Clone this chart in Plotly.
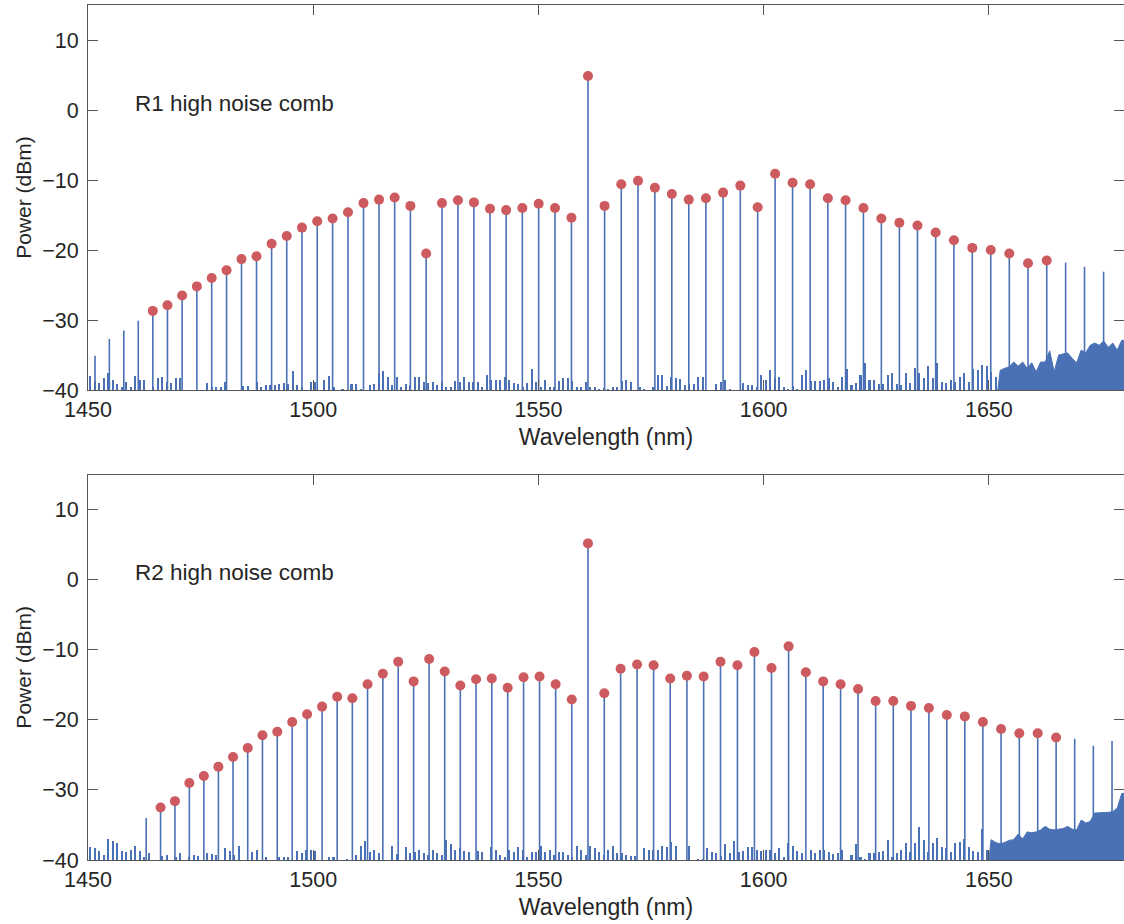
import numpy as np
import plotly.graph_objects as go
from plotly.subplots import make_subplots

# ---------------- data ----------------
# R1 comb lines (nm) and peak power (dBm)
r1_wl = [1451.56, 1454.74, 1457.95, 1461.16, 1464.39, 1467.64, 1470.90, 1474.17, 1477.46, 1480.76,
         1484.08, 1487.41, 1490.76, 1494.12, 1497.50, 1500.89, 1504.30, 1507.72, 1511.16, 1514.61,
         1518.08, 1521.57, 1525.07, 1528.59, 1532.13, 1535.68, 1539.25, 1542.83, 1546.43, 1550.05,
         1553.68, 1557.33, 1561.00, 1564.69, 1568.39, 1572.11, 1575.85, 1579.61, 1583.38, 1587.18,
         1590.99, 1594.82, 1598.67, 1602.54, 1606.42, 1610.32, 1614.25, 1618.19, 1622.15, 1626.13,
         1630.13, 1634.15, 1638.19, 1642.24, 1646.32, 1650.42, 1654.54, 1658.69, 1662.85, 1667.04,
         1671.24, 1675.47]
r1_dbm = [-35.1, -32.7, -31.5, -30.1, -28.7, -27.9, -26.5, -25.2, -24.0, -22.9,
          -21.3, -20.9, -19.1, -18.0, -16.8, -15.9, -15.5, -14.6, -13.3, -12.8,
          -12.5, -13.7, -20.5, -13.3, -12.9, -13.2, -14.1, -14.3, -14.0, -13.4,
          -14.0, -15.4, 4.85, -13.7, -10.6, -10.1, -11.1, -12.0, -12.8, -12.6,
          -11.8, -10.8, -13.9, -9.1, -10.4, -10.6, -12.6, -12.9, -14.0, -15.5,
          -16.1, -16.5, -17.5, -18.6, -19.7, -20.0, -20.5, -21.9, -21.5, -21.8,
          -22.4, -23.1]
r1_marked = (4, 58)  # first and last index of lines carrying a red dot

# R2 comb lines (nm) and peak power (dBm)
r2_wl = [1462.92, 1466.11, 1469.30, 1472.50, 1475.72, 1478.95, 1482.20, 1485.46, 1488.73, 1492.02,
         1495.33, 1498.64, 1501.97, 1505.32, 1508.69, 1512.06, 1515.46, 1518.87, 1522.29, 1525.73,
         1529.19, 1532.66, 1536.15, 1539.65, 1543.17, 1546.70, 1550.25, 1553.82, 1557.40, 1561.00,
         1564.62, 1568.25, 1571.90, 1575.57, 1579.26, 1582.96, 1586.68, 1590.42, 1594.18, 1597.95,
         1601.74, 1605.54, 1609.37, 1613.22, 1617.08, 1620.96, 1624.86, 1628.78, 1632.72, 1636.68,
         1640.66, 1644.66, 1648.67, 1652.71, 1656.76, 1660.84, 1664.93, 1669.05, 1673.19, 1677.34]
r2_dbm = [-34.0, -32.5, -31.6, -29.0, -28.0, -26.7, -25.3, -24.0, -22.2, -21.7,
          -20.3, -19.2, -18.1, -16.7, -16.9, -14.9, -13.4, -11.7, -14.5, -11.3,
          -13.1, -15.1, -14.2, -14.1, -15.4, -13.9, -13.8, -14.9, -17.1, 5.2,
          -16.2, -12.7, -12.1, -12.2, -14.1, -13.7, -13.8, -11.7, -12.2, -10.3,
          -12.6, -9.5, -13.2, -14.5, -14.9, -15.6, -17.3, -17.3, -18.0, -18.3,
          -19.3, -19.5, -20.3, -21.3, -21.9, -21.9, -22.5, -22.7, -23.7, -23.0]
r2_marked = (1, 56)

# noise floor, one reading per 1 nm bin from 1450 to 1680 nm (dBm)
noise_start, noise_step = 1450.5, 1.0
r1_noise = [
    -38.0, -38.7, -39.0, -38.3, -37.6, -38.6, -39.1, -39.5, -38.8, -39.5,
    -38.0, -38.5, -38.5, -40.0, -39.5, -38.3, -38.1, -38.8, -39.0, -38.3,
    -38.3, -40.0, -40.0, -40.0, -40.0, -40.0, -39.0, -39.5, -39.5, -39.6,
    -38.8, -40.0, -40.0, -40.0, -39.4, -39.4, -40.0, -38.8, -39.6, -39.3,
    -39.3, -39.3, -39.1, -39.0, -39.2, -37.3, -39.3, -39.6, -40.0, -38.8,
    -38.8, -40.0, -38.5, -38.0, -39.5, -40.0, -39.9, -40.0, -39.1, -39.2,
    -39.8, -40.0, -39.3, -39.1, -37.5, -37.3, -38.2, -39.3, -38.2, -39.5,
    -39.2, -39.3, -38.2, -38.2, -38.8, -39.0, -38.8, -39.3, -38.8, -39.6,
    -39.5, -38.7, -38.8, -38.1, -38.8, -38.8, -38.8, -39.6, -37.8, -38.6,
    -38.5, -38.5, -38.2, -38.5, -39.0, -39.2, -39.5, -39.0, -37.0, -38.8,
    -39.5, -38.5, -39.6, -39.6, -38.7, -38.3, -38.3, -38.7, -39.6, -39.6,
    -38.8, -39.5, -39.6, -39.8, -39.7, -39.8, -39.5, -39.5, -38.7, -38.6,
    -38.8, -40.0, -39.5, -39.8, -40.0, -39.5, -37.8, -37.9, -39.4, -38.2,
    -38.3, -38.4, -39.3, -39.1, -39.1, -38.1, -38.1, -40.0, -40.0, -39.1,
    -38.8, -38.6, -39.8, -40.0, -40.0, -39.0, -39.3, -39.3, -39.6, -37.9,
    -38.6, -37.2, -38.3, -38.2, -39.5, -39.9, -39.4, -39.8, -37.9, -37.2,
    -38.7, -38.7, -38.7, -38.6, -38.3, -38.8, -39.5, -38.2, -37.0, -39.3,
    -39.0, -37.9, -36.2, -38.6, -38.5, -39.1, -39.1, -37.9, -37.6, -39.1,
    -39.3, -37.5, -39.0, -36.9, -37.5, -38.3, -36.6, -38.3, -36.1, -38.8,
    -39.0, -38.6, -38.8, -38.2, -37.5, -38.8, -37.0, -37.2, -36.4, -36.6,
    -37.4, -38.1, -37.2, -36.9, -36.7, -36.0, -36.6, -36.0, -36.9, -36.1,
    -37.4, -36.0, -36.0, -34.4, -37.4, -35.0, -34.8, -34.7, -35.5, -36.1,
    -34.3, -34.7, -33.6, -33.3, -33.6, -33.0, -33.9, -33.3, -34.3, -32.9]
r2_noise = [
    -38.1, -38.2, -38.7, -39.3, -37.0, -37.2, -37.5, -38.7, -38.8, -38.6,
    -38.0, -38.7, -39.6, -39.0, -40.0, -40.0, -39.4, -39.3, -40.0, -39.6,
    -39.0, -40.0, -39.6, -39.3, -39.4, -40.0, -39.0, -39.1, -39.3, -40.0,
    -38.2, -38.7, -39.3, -37.9, -40.0, -40.0, -38.8, -38.5, -40.0, -39.6,
    -40.0, -40.0, -39.6, -39.6, -39.6, -40.0, -38.7, -39.0, -38.6, -38.5,
    -38.7, -40.0, -40.0, -39.6, -39.6, -40.0, -40.0, -39.8, -40.0, -39.3,
    -38.0, -37.2, -38.8, -38.5, -39.0, -40.0, -40.0, -37.9, -39.1, -40.0,
    -38.1, -39.0, -38.8, -38.5, -39.0, -39.3, -38.5, -39.0, -39.3, -37.1,
    -37.7, -38.6, -38.2, -38.7, -38.8, -40.0, -38.7, -38.8, -40.0, -38.1,
    -38.5, -39.3, -39.6, -38.6, -38.8, -38.1, -38.6, -39.5, -38.8, -38.8,
    -37.9, -38.8, -38.5, -39.3, -38.8, -38.8, -39.3, -39.6, -37.9, -38.5,
    -39.3, -37.9, -38.3, -38.8, -39.3, -38.5, -37.9, -39.0, -39.0, -39.3,
    -39.4, -39.4, -40.0, -38.3, -38.6, -38.5, -38.5, -37.9, -38.1, -37.4,
    -38.0, -40.0, -40.0, -37.9, -40.0, -39.8, -39.8, -38.3, -38.8, -39.0,
    -39.4, -37.7, -39.0, -37.3, -38.8, -38.7, -38.1, -38.1, -38.6, -38.7,
    -38.6, -38.6, -39.0, -38.3, -39.5, -37.6, -37.9, -38.7, -39.0, -40.0,
    -38.6, -39.0, -38.6, -38.6, -38.8, -39.1, -39.0, -38.6, -40.0, -39.3,
    -37.7, -39.5, -39.8, -39.0, -39.0, -38.8, -38.7, -37.1, -39.6, -39.0,
    -38.6, -37.6, -38.8, -37.6, -35.3, -37.1, -38.8, -37.5, -36.8, -38.1,
    -38.3, -38.8, -37.5, -37.4, -36.9, -38.1, -38.7, -38.8, -35.6, -38.6,
    -37.1, -37.5, -37.7, -37.5, -37.2, -37.1, -36.3, -37.0, -36.0, -36.1,
    -36.0, -35.7, -35.2, -35.6, -35.7, -35.6, -35.5, -35.2, -35.6, -35.7,
    -34.3, -34.7, -34.5, -33.3, -33.3, -33.3, -33.2, -33.1, -32.6, -30.5]

labels = ["R1 high noise comb", "R2 high noise comb"]
x_ticks = [1450, 1500, 1550, 1600, 1650]
y_ticks = [-40, -30, -20, -10, 0, 10]

# ---------------- styling ----------------
BLUE = "#4a70b5"
RED = "#cd5a5e"
FONT = "Liberation Sans, Arial, Helvetica, sans-serif"
TXT = "#262626"
FLOOR = -40
dense_from = [1652, 1650]  # where the noise becomes a continuous band

fig = make_subplots(rows=2, cols=1)

panels = [(r1_wl, r1_dbm, r1_marked, r1_noise), (r2_wl, r2_dbm, r2_marked, r2_noise)]
for row, (wl, dbm, marked, noise) in enumerate(panels, start=1):
    nx = noise_start + noise_step * np.arange(len(noise))
    ny = np.array(noise)
    sparse = nx < dense_from[row - 1]
    # sparse noise spikes
    fig.add_trace(go.Bar(x=nx[sparse], y=ny[sparse] - FLOOR, base=FLOOR, width=0.45,
                         marker=dict(color=BLUE, line=dict(width=0)),
                         showlegend=False, hoverinfo="skip"), row=row, col=1)
    # dense noise band (filled to the floor)
    dx = nx[~sparse]
    dy = ny[~sparse]
    px = [dx[0] - 0.5] + list(dx) + [1680, 1680, dx[0] - 0.5]
    py = [FLOOR] + list(dy) + [dy[-1], FLOOR, FLOOR]
    fig.add_trace(go.Scatter(x=px, y=py, mode="lines", fill="toself",
                             fillcolor=BLUE, line=dict(color=BLUE, width=1),
                             showlegend=False, hoverinfo="skip"), row=row, col=1)
    xs, ys = [], []
    for w, p in zip(wl, dbm):
        xs += [w, w, None]
        ys += [FLOOR, p, None]
    fig.add_trace(go.Scatter(x=xs, y=ys, mode="lines",
                             line=dict(color=BLUE, width=1.6),
                             showlegend=False, hoverinfo="skip"), row=row, col=1)
    a, b = marked
    fig.add_trace(go.Scatter(x=wl[a:b + 1], y=dbm[a:b + 1], mode="markers",
                             marker=dict(color=RED, size=10, line=dict(width=0)),
                             showlegend=False), row=row, col=1)
    fig.add_annotation(x=1460, y=1, xref=f"x{'' if row == 1 else row}",
                       yref=f"y{'' if row == 1 else row}", text=labels[row - 1],
                       showarrow=False, xanchor="left", yanchor="middle",
                       font=dict(family=FONT, size=22.5, color=TXT))

axis_common = dict(showline=True, linecolor="#555555", linewidth=1, mirror="ticks",
                   ticks="inside", ticklen=10, tickwidth=1, tickcolor="#555555",
                   showgrid=False, zeroline=False, automargin=False,
                   tickfont=dict(family=FONT, size=21.5, color=TXT))

for row in (1, 2):
    fig.update_xaxes(range=[1450, 1680], tickvals=x_ticks, title_text="Wavelength (nm)",
                     title_standoff=8, title_font=dict(family=FONT, size=23, color=TXT),
                     **axis_common, row=row, col=1)
    fig.update_yaxes(range=[FLOOR, 15], tickvals=y_ticks, title_text="Power (dBm)",
                     title_standoff=4, title_font=dict(family=FONT, size=21, color=TXT),
                     ticklabelstandoff=4, **axis_common, row=row, col=1)

fig.update_layout(
    width=1124, height=924,
    margin=dict(l=88, r=0, t=5, b=64),
    plot_bgcolor="white", paper_bgcolor="white",
    barmode="overlay", bargap=0,
    yaxis=dict(domain=[0.5497, 1.0]),
    yaxis2=dict(domain=[0.0, 0.4506]),
    xaxis=dict(domain=[0, 1]), xaxis2=dict(domain=[0, 1]),
    font=dict(family=FONT, color=TXT),
)

fig.write_html("out.html", config={"displayModeBar": False},
               post_script="document.body.style.margin='0px';")
